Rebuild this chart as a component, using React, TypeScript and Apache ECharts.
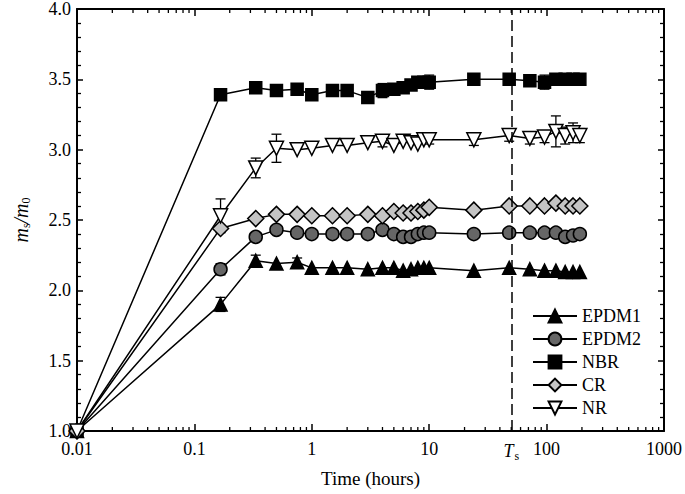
import React, { useEffect, useRef } from "react";
import * as echarts from "echarts";

const timeHours = [0.01, 0.167, 0.333, 0.5, 0.75, 1, 1.5, 2, 3, 4, 5, 6, 7, 8, 9, 10, 24, 48, 72, 96, 120, 144, 168, 192];

const epdm1 = [1.0, 1.9, 2.21, 2.19, 2.2, 2.16, 2.16, 2.16, 2.15, 2.16, 2.16, 2.14, 2.15, 2.16, 2.16, 2.16, 2.14, 2.16, 2.15, 2.14, 2.14, 2.13, 2.13, 2.13];
const epdm2 = [1.0, 2.15, 2.38, 2.43, 2.41, 2.4, 2.4, 2.4, 2.4, 2.43, 2.4, 2.38, 2.38, 2.4, 2.41, 2.41, 2.4, 2.41, 2.41, 2.41, 2.41, 2.38, 2.39, 2.4];
const nbr = [1.0, 3.39, 3.44, 3.42, 3.43, 3.39, 3.42, 3.42, 3.37, 3.42, 3.43, 3.44, 3.46, 3.48, 3.48, 3.48, 3.5, 3.5, 3.49, 3.48, 3.5, 3.5, 3.5, 3.5];
const cr = [1.0, 2.44, 2.51, 2.54, 2.54, 2.53, 2.53, 2.53, 2.54, 2.53, 2.56, 2.55, 2.55, 2.56, 2.57, 2.59, 2.57, 2.6, 2.6, 2.6, 2.62, 2.6, 2.6, 2.6];
const nr = [1.0, 2.53, 2.87, 3.01, 3.0, 3.01, 3.03, 3.03, 3.05, 3.06, 3.03, 3.06, 3.05, 3.04, 3.07, 3.07, 3.07, 3.1, 3.08, 3.09, 3.13, 3.1, 3.12, 3.1];

const epdm1Err = [0, 0.05, 0.04, 0, 0.03, 0, 0, 0, 0, 0, 0, 0, 0, 0, 0, 0, 0, 0, 0, 0, 0, 0, 0, 0];
const epdm2Err = [0, 0.04, 0, 0, 0, 0, 0, 0, 0, 0, 0, 0, 0, 0, 0, 0, 0, 0, 0, 0, 0, 0, 0, 0];
const nbrErr = [0, 0, 0, 0, 0, 0, 0, 0, 0, 0.05, 0, 0, 0, 0, 0, 0.05, 0, 0, 0, 0.05, 0, 0, 0, 0];
const crErr = [0, 0, 0, 0, 0.02, 0, 0, 0, 0, 0, 0, 0, 0, 0, 0, 0, 0, 0, 0, 0, 0, 0, 0, 0];
const nrErr = [0, 0.12, 0.07, 0.1, 0, 0, 0, 0, 0, 0.04, 0, 0, 0, 0, 0, 0.03, 0.04, 0.04, 0.04, 0.04, 0.11, 0.06, 0.07, 0.05];

const xTickLabels = ["0.01", "0.1", "1", "10", "100", "1000"];
const minorXTicks = [0.01, 0.1, 1, 10, 100].flatMap((d) => [2, 3, 4, 5, 6, 7, 8, 9].map((k) => +(d * k).toPrecision(3)));
const tsValue = 50;

const FONT = "'Liberation Serif', 'Times New Roman', serif";
const DOWN_TRIANGLE = "path://M0,0L10,0L5,8.66Z";

export default function App() {
  const ref = useRef<HTMLDivElement>(null);
  useEffect(() => {
    document.body.style.margin = "0";
    if (!ref.current) return;
    const chart = echarts.init(ref.current, null, { renderer: "svg" });

    const mkLine = (name: string, values: number[], symbol: string, size: number, fill: string) => ({
      name,
      type: "line",
      data: timeHours.map((t, i) => [t, values[i]]),
      symbol,
      symbolSize: size,
      showAllSymbol: true,
      z: 3,
      lineStyle: { color: "#000", width: 1.5 },
      itemStyle: { color: fill, borderColor: "#000", borderWidth: 1.5 },
    });

    const errData = (values: number[], errs: number[]) =>
      timeHours.map((t, i) => [t, values[i], errs[i]]).filter((d) => d[2] > 0);

    const errSeries = {
      type: "custom",
      silent: true,
      z: 2,
      clip: false,
      data: [
        ...errData(epdm1, epdm1Err),
        ...errData(epdm2, epdm2Err),
        ...errData(nbr, nbrErr),
        ...errData(cr, crErr),
        ...errData(nr, nrErr),
      ],
      encode: { x: 0, y: 1 },
      renderItem: (params: any, api: any) => {
        const x = api.value(0);
        const y = api.value(1);
        const e = api.value(2);
        const top = api.coord([x, y + e]);
        const bot = api.coord([x, y - e]);
        const hw = 5;
        const style = { stroke: "#000", lineWidth: 1.3 };
        return {
          type: "group",
          children: [
            { type: "line", shape: { x1: top[0], y1: top[1], x2: bot[0], y2: bot[1] }, style },
            { type: "line", shape: { x1: top[0] - hw, y1: top[1], x2: top[0] + hw, y2: top[1] }, style },
            { type: "line", shape: { x1: bot[0] - hw, y1: bot[1], x2: bot[0] + hw, y2: bot[1] }, style },
          ],
        };
      },
    };

    const minorTickSeries = {
      type: "custom",
      silent: true,
      z: 1,
      clip: false,
      data: minorXTicks.map((v) => [v, 1]),
      encode: { x: 0, y: 1 },
      renderItem: (params: any, api: any) => {
        const v = api.value(0);
        const b = api.coord([v, 1]);
        const t = api.coord([v, 4]);
        const style = { stroke: "#000", lineWidth: 1.3 };
        return {
          type: "group",
          children: [
            { type: "line", shape: { x1: b[0], y1: b[1], x2: b[0], y2: b[1] - 4 }, style },
            { type: "line", shape: { x1: t[0], y1: t[1], x2: t[0], y2: t[1] + 4 }, style },
          ],
        };
      },
    };

    const tsSeries = {
      type: "line",
      data: [],
      markLine: {
        silent: true,
        symbol: "none",
        animation: false,
        lineStyle: { color: "#000", type: [11, 5], width: 1.5 },
        label: {
          show: true,
          position: "start",
          distance: 9,
          formatter: "{t|T}{s|s}",
          rich: {
            t: { fontFamily: FONT, fontStyle: "italic", fontSize: 18, color: "#000" },
            s: { fontFamily: FONT, fontSize: 12, color: "#000", padding: [10, 0, 0, 1] },
          },
        },
        data: [{ xAxis: tsValue }],
      },
    };

    const axisCommon = {
      axisLine: { show: true, lineStyle: { color: "#000", width: 2 } },
      splitLine: { show: false },
    };

    chart.setOption({
      animation: false,
      backgroundColor: "#fff",
      grid: { left: 77, right: 20, top: 8, bottom: 63 },
      xAxis: [
        {
          type: "log",
          logBase: 10,
          min: 0.01,
          max: 1000,
          ...axisCommon,
          axisTick: { show: true, inside: true, length: 7, lineStyle: { color: "#000", width: 1.5 } },
          axisLabel: {
            color: "#000",
            fontFamily: FONT,
            fontSize: 18,
            margin: 9,
            formatter: (v: number) => {
              const e = Math.round(Math.log10(v));
              return xTickLabels[e + 2] ?? String(v);
            },
          },
          name: "Time (hours)",
          nameLocation: "middle",
          nameGap: 38,
          nameTextStyle: { color: "#000", fontFamily: FONT, fontSize: 19 },
        },
        {
          type: "log",
          logBase: 10,
          min: 0.01,
          max: 1000,
          position: "top",
          ...axisCommon,
          axisTick: { show: true, inside: true, length: 7, lineStyle: { color: "#000", width: 1.5 } },
          axisLabel: { show: false },
        },
      ],
      yAxis: [
        {
          type: "value",
          min: 1,
          max: 4,
          interval: 0.5,
          ...axisCommon,
          axisTick: { show: true, inside: true, length: 6, lineStyle: { color: "#000", width: 1.5 } },
          minorTick: { show: true, splitNumber: 5, length: 4, lineStyle: { color: "#000", width: 1.3 } },
          axisLabel: {
            color: "#000",
            fontFamily: FONT,
            fontSize: 18,
            margin: 6,
            formatter: (v: number) => v.toFixed(1),
          },
          name: "{i|m}{s|s}{i|/m}{s|0}",
          nameLocation: "middle",
          nameGap: 46,
          nameTextStyle: {
            rich: {
              i: { fontFamily: FONT, fontStyle: "italic", fontSize: 20, color: "#000" },
              s: { fontFamily: FONT, fontSize: 12, color: "#000", padding: [0, 0, -10, 0] },
            },
          },
        },
        {
          type: "value",
          min: 1,
          max: 4,
          interval: 0.5,
          position: "right",
          ...axisCommon,
          axisTick: { show: true, inside: true, length: 6, lineStyle: { color: "#000", width: 1.5 } },
          minorTick: { show: true, splitNumber: 5, length: 4, lineStyle: { color: "#000", width: 1.3 } },
          axisLabel: { show: false },
        },
      ],
      legend: {
        orient: "vertical",
        left: 527,
        top: 302,
        itemWidth: 44,
        itemHeight: 16,
        itemGap: 5,
        textStyle: { color: "#000", fontFamily: FONT, fontSize: 18 },
        data: ["EPDM1", "EPDM2", "NBR", "CR", "NR"],
      },
      series: [
        minorTickSeries,
        errSeries,
        tsSeries,
        mkLine("EPDM1", epdm1, "triangle", 13, "#000"),
        mkLine("EPDM2", epdm2, "circle", 13, "#666666"),
        mkLine("NBR", nbr, "rect", 12, "#000"),
        mkLine("CR", cr, "diamond", 16, "#c4c4c4"),
        mkLine("NR", nr, DOWN_TRIANGLE, 14, "#ffffff"),
      ],
    });
    return () => chart.dispose();
  }, []);
  return <div ref={ref} style={{ width: 685, height: 494 }} />;
}
